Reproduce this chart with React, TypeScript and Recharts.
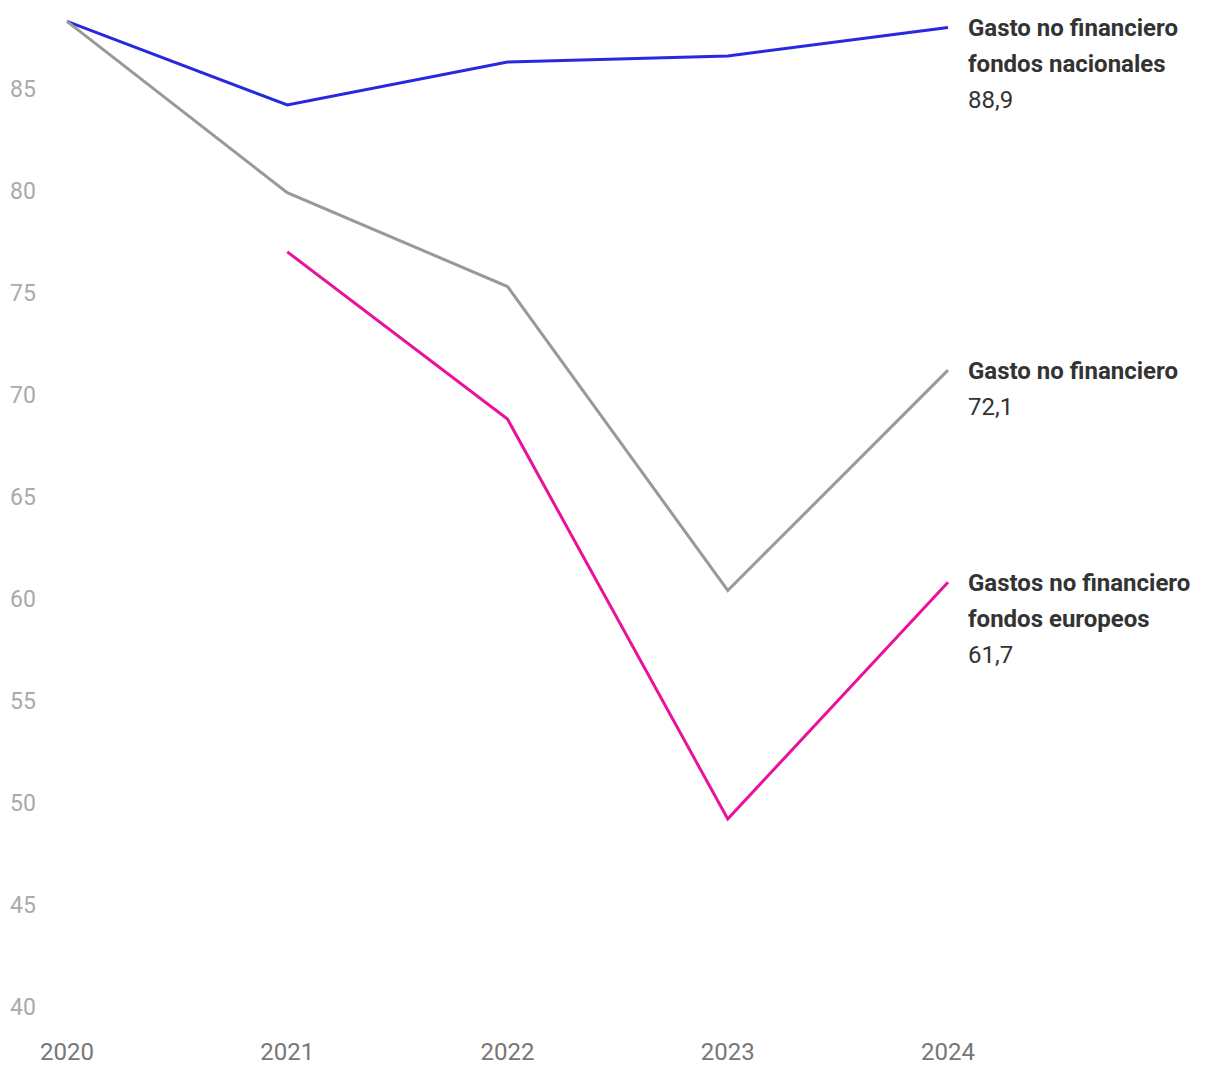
import { LineChart, Line, XAxis, YAxis } from 'recharts';

const years = ['2020', '2021', '2022', '2023', '2024'];
const nacionales = [89.2, 85.1, 87.2, 87.5, 88.9];
const total = [89.2, 80.8, 76.2, 61.3, 72.1];
const europeos = [null, 77.9, 69.7, 50.1, 61.7];
const yTicks = [40, 45, 50, 55, 60, 65, 70, 75, 80, 85];

const seriesInfo = [
  { key: 'nacionales', color: '#2828e0', lines: ['Gasto no financiero', 'fondos nacionales'] },
  { key: 'total', color: '#999999', lines: ['Gasto no financiero'] },
  { key: 'europeos', color: '#e8129b', lines: ['Gastos no financiero', 'fondos europeos'] },
];

const data = years.map((year, i) => ({
  year,
  nacionales: nacionales[i],
  total: total[i],
  europeos: europeos[i],
}));

const fmt = (v: number) => v.toFixed(1).replace('.', ',');

const YTick = (props: any) => {
  const { y, payload } = props;
  return (
    <text x={10} y={y - 10} fill="#aaaaaa" fontSize={23} fontFamily="Roboto">
      {payload.value}
    </text>
  );
};

const XTick = (props: any) => {
  const { x, y, payload } = props;
  return (
    <text x={x} y={y + 27} fill="#777777" fontSize={24} fontFamily="Roboto" textAnchor="middle">
      {payload.value}
    </text>
  );
};

const makeEndLabel = (info: (typeof seriesInfo)[number]) => (props: any) => {
  const { x, y, index, value } = props;
  if (index !== years.length - 1) return null;
  return (
    <g>
      {info.lines.map((t, i) => (
        <text
          key={t}
          x={x + 20}
          y={y + 9 + i * 36}
          fill="#333333"
          fontSize={24}
          fontWeight="bold"
          fontFamily="Roboto"
        >
          {t}
        </text>
      ))}
      <text x={x + 20} y={y + 9 + info.lines.length * 36} fill="#333333" fontSize={24} fontFamily="Roboto">
        {fmt(value)}
      </text>
    </g>
  );
};

export default function App() {
  return (
    <div style={{ position: 'absolute', left: 0, top: 0, background: '#fff' }}>
      <LineChart width={1220} height={1084} data={data} margin={{ top: 5, right: 272, left: 0, bottom: 0 }}>
        <XAxis
          dataKey="year"
          axisLine={false}
          tickLine={false}
          height={59}
          tick={<XTick />}
          interval={0}
        />
        <YAxis
          domain={[40, 90]}
          ticks={yTicks}
          axisLine={false}
          tickLine={false}
          width={67}
          tick={<YTick />}
        />
        {seriesInfo.map((s) => (
          <Line
            key={s.key}
            type="linear"
            dataKey={s.key}
            stroke={s.color}
            strokeWidth={3}
            dot={false}
            isAnimationActive={false}
            label={makeEndLabel(s)}
          />
        ))}
      </LineChart>
    </div>
  );
}
